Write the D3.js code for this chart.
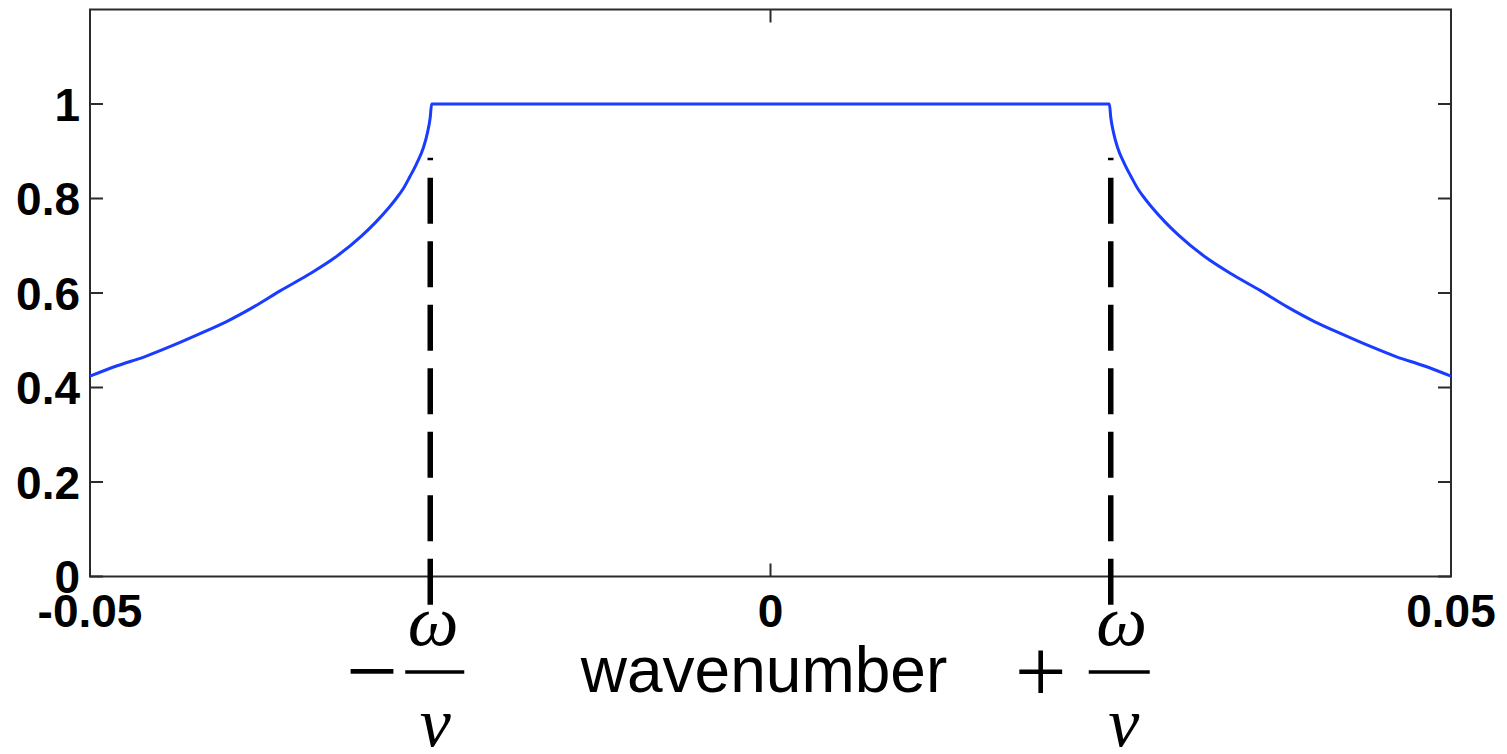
<!DOCTYPE html>
<html>
<head>
<meta charset="utf-8">
<script src="https://cdn.jsdelivr.net/npm/d3@7"></script>
<style>
body { margin: 0; background: #fff; }
</style>
</head>
<body>
<div id="chart"></div>
<script>
// data
var wavenumber = [-0.050, -0.048, -0.046, -0.044, -0.042, -0.040, -0.038, -0.036, -0.034, -0.032,
  -0.030, -0.029, -0.028, -0.0275, -0.027, -0.0265, -0.026, -0.0255, -0.0252, -0.0250, -0.0249,
  0.0249, 0.0250, 0.0252, 0.0255, 0.026, 0.0265, 0.027, 0.0275, 0.028, 0.029, 0.030,
  0.032, 0.034, 0.036, 0.038, 0.040, 0.042, 0.044, 0.046, 0.048, 0.050]
var response = [0.424, 0.446, 0.465, 0.488, 0.513, 0.539, 0.570, 0.605, 0.638, 0.675,
  0.722, 0.750, 0.782, 0.800, 0.820, 0.846, 0.874, 0.908, 0.940, 0.972, 1.0,
  1.0, 0.972, 0.940, 0.908, 0.874, 0.846, 0.820, 0.800, 0.782, 0.750, 0.722,
  0.675, 0.638, 0.605, 0.570, 0.539, 0.513, 0.488, 0.465, 0.446, 0.424]
var cutoff = [-0.025, 0.025]
var xTicks = [-0.05, 0, 0.05]
var xTickLabels = ["-0.05", "0", "0.05"]
var yTicks = [0, 0.2, 0.4, 0.6, 0.8, 1]
var yTickLabels = ["0", "0.2", "0.4", "0.6", "0.8", "1"]
var xLabel = "wavenumber"

var W = 1507
var H = 754
var pL = 90
var pR = 1451
var pT = 9.5
var pB = 576.5
var tick = 13

var x = d3.scaleLinear().domain([-0.05, 0.05]).range([pL, pR])
var y = d3.scaleLinear().domain([0, 1.2]).range([pB, pT])

var svg = d3.select("#chart").append("svg")
    .attr("width", W)
    .attr("height", H)

// frame
svg.append("rect")
    .attr("x", pL).attr("y", pT)
    .attr("width", pR - pL).attr("height", pB - pT)
    .attr("fill", "none").attr("stroke", "#2b2b2b").attr("stroke-width", 2)

// inward ticks on all four sides
svg.selectAll(".ytl").data(yTicks).enter().append("line")
    .attr("x1", pL).attr("x2", pL + tick)
    .attr("y1", d => y(d)).attr("y2", d => y(d))
    .attr("stroke", "#2b2b2b").attr("stroke-width", 2)
svg.selectAll(".ytr").data(yTicks).enter().append("line")
    .attr("x1", pR).attr("x2", pR - tick)
    .attr("y1", d => y(d)).attr("y2", d => y(d))
    .attr("stroke", "#2b2b2b").attr("stroke-width", 2)
svg.selectAll(".xtb").data(xTicks).enter().append("line")
    .attr("x1", d => x(d)).attr("x2", d => x(d))
    .attr("y1", pB).attr("y2", pB - tick)
    .attr("stroke", "#2b2b2b").attr("stroke-width", 2)
svg.selectAll(".xtt").data(xTicks).enter().append("line")
    .attr("x1", d => x(d)).attr("x2", d => x(d))
    .attr("y1", pT).attr("y2", pT + tick)
    .attr("stroke", "#2b2b2b").attr("stroke-width", 2)

// tick labels
svg.selectAll(".ylab").data(yTicks).enter().append("text")
    .attr("x", pL - 10)
    .attr("y", d => y(d))
    .attr("dy", "0.36em")
    .attr("text-anchor", "end")
    .style("font-family", "'Liberation Sans', Arial, sans-serif")
    .style("font-weight", "bold")
    .style("font-size", "46px")
    .text((d, i) => yTickLabels[i])

svg.selectAll(".xlab").data(xTicks).enter().append("text")
    .attr("x", d => x(d))
    .attr("y", 627)
    .attr("text-anchor", "middle")
    .style("font-family", "'Liberation Sans', Arial, sans-serif")
    .style("font-weight", "bold")
    .style("font-size", "46px")
    .text((d, i) => xTickLabels[i])

// curve
var line = d3.line()
    .x((d, i) => x(wavenumber[i]))
    .y(d => y(d))
    .curve(d3.curveMonotoneX)

svg.append("path")
    .datum(response)
    .attr("d", line)
    .attr("fill", "none")
    .attr("stroke", "#1a3cff")
    .attr("stroke-width", 3)

// dashed cutoff markers, dashes counted from the bottom
svg.selectAll(".cut").data(cutoff).enter().append("line")
    .attr("x1", d => x(d)).attr("x2", d => x(d))
    .attr("y1", y(-0.06)).attr("y2", y(0.886))
    .attr("stroke", "#000").attr("stroke-width", 5.5)
    .attr("stroke-dasharray", "46,17.5")

// x label
svg.append("text")
    .attr("x", 764)
    .attr("y", 692)
    .attr("text-anchor", "middle")
    .style("font-family", "'Liberation Sans', Arial, sans-serif")
    .style("font-size", "64px")
    .text(xLabel)

// -w/v and +w/v under the markers
var signs = ["\u2212", "+"]
var fr = svg.selectAll(".frac").data(cutoff).enter().append("g")

fr.append("text")
    .attr("x", (d, i) => x(d) - (i == 0 ? 58 : 70))
    .attr("y", 702)
    .attr("text-anchor", "middle")
    .style("font-family", "'Liberation Serif', 'Times New Roman', serif")
    .style("font-size", "92px")
    .text((d, i) => signs[i])

fr.append("line")
    .attr("x1", (d, i) => x(d) - 25 + (i == 0 ? 0 : 3))
    .attr("x2", (d, i) => x(d) + 34 + (i == 0 ? 0 : 5))
    .attr("y1", 672).attr("y2", 672)
    .attr("stroke", "#000").attr("stroke-width", 3.5)

fr.append("text")
    .attr("x", (d, i) => x(d) + 3 + (i == 0 ? 0 : 8))
    .attr("y", 645)
    .attr("text-anchor", "middle")
    .style("font-family", "'Liberation Serif', 'Times New Roman', serif")
    .style("font-style", "italic")
    .style("font-size", "72px")
    .text("\u03c9")

fr.append("text")
    .attr("x", (d, i) => x(d) + 5 + (i == 0 ? 0 : 8))
    .attr("y", 746)
    .attr("text-anchor", "middle")
    .style("font-family", "'Liberation Serif', 'Times New Roman', serif")
    .style("font-style", "italic")
    .style("font-size", "70px")
    .text("v")
</script>
</body>
</html>
